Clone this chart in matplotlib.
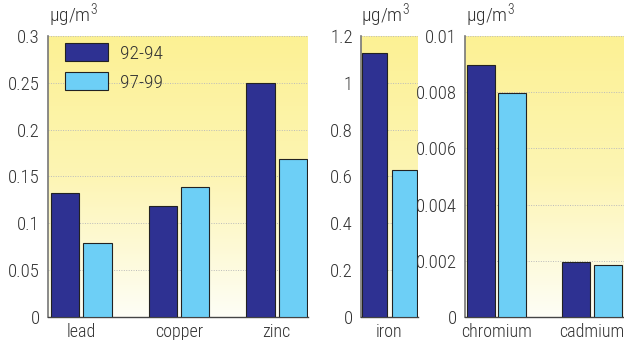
import matplotlib
matplotlib.use('Agg')
import matplotlib.pyplot as plt
import numpy as np
from matplotlib.colors import LinearSegmentedColormap

plt.rcParams['font.family'] = ['Roboto Condensed', 'DejaVu Sans']
plt.rcParams['font.weight'] = 'light'
plt.rcParams['mathtext.fontset'] = 'custom'
plt.rcParams['mathtext.rm'] = 'Roboto Condensed:light'

# data
periods = ['92-94', '97-99']
metals_a = ['lead', 'copper', 'zinc']
early_a = [0.132, 0.119, 0.25]
late_a = [0.079, 0.139, 0.169]

metals_b = ['iron']
early_b = [1.127]
late_b = [0.628]

metals_c = ['chromium', 'cadmium']
early_c = [0.00897, 0.00196]
late_c = [0.00797, 0.00186]

DARK = '#2e3192'
LIGHT = '#6dcff6'
TXT = '#333333'

grad = LinearSegmentedColormap.from_list('bg', ['#fefef6', '#fdf5b4', '#fcf194'])

fig = plt.figure(figsize=(6.24, 3.4), dpi=100)
fig.patch.set_facecolor('white')


def panel(rect, names, v1, v2, ymax, step, width, offset, xlim, ticklabels):
    ax = fig.add_axes(rect)
    x = np.arange(len(names))
    ax.set_xlim(*xlim)
    ax.set_ylim(0, ymax)
    ax.imshow(np.linspace(0, 1, 256).reshape(-1, 1), aspect='auto', cmap=grad,
              origin='lower', extent=[xlim[0], xlim[1], 0, ymax], zorder=0)
    ax.bar(x - offset, v1, width, color=DARK, edgecolor='#222222', linewidth=0.8,
           zorder=3, label=periods[0])
    ax.bar(x + offset, v2, width, color=LIGHT, edgecolor='#222222', linewidth=0.8,
           zorder=3, label=periods[1])
    ticks = np.arange(0, ymax + step / 2, step)
    ax.set_yticks(ticks)
    ax.set_yticklabels(ticklabels, fontsize=13.5, color=TXT)
    ax.yaxis.grid(True, linestyle=(0, (1, 1.5)), color='#bbbbbb', linewidth=0.7, zorder=1)
    ax.set_xticks(x)
    ax.set_xticklabels(names, fontsize=13, color=TXT)
    ax.tick_params(length=0, pad=6)
    ax.tick_params(axis='x', pad=4)
    for s in ['top', 'right']:
        ax.spines[s].set_visible(False)
    ax.spines['left'].set_color('#777777')
    ax.spines['left'].set_linewidth(1.2)
    ax.spines['bottom'].set_color('#444444')
    ax.spines['bottom'].set_linewidth(1.0)
    ax.text(0.005, 1.02, 'µg/m$^3$', transform=ax.transAxes,
            ha='left', va='bottom', fontsize=14, color=TXT)
    return ax


ax1 = panel([48 / 624, 23 / 340, 260 / 624, 281 / 340], metals_a, early_a, late_a,
            0.3, 0.05, 0.29, 0.165, (-0.34, 2.32),
            ['0', '0.05', '0.1', '0.15', '0.2', '0.25', '0.3'])
panel([361 / 624, 23 / 340, 57 / 624, 281 / 340], metals_b, early_b, late_b,
      1.2, 0.2, 0.44, 0.26, (-0.5, 0.5),
      ['0', '0.2', '0.4', '0.6', '0.8', '1', '1.2'])
panel([465 / 624, 23 / 340, 159 / 624, 281 / 340], metals_c, early_c, late_c,
      0.01, 0.002, 0.29, 0.165, (-0.33, 1.335),
      ['0', '0.002', '0.004', '0.006', '0.008', '0.01'])

leg = ax1.legend(loc='upper left', bbox_to_anchor=(0.065, 0.975), frameon=False,
                 fontsize=14, handlelength=2.2, handleheight=1.05,
                 labelspacing=0.5, handletextpad=0.65, borderpad=0, borderaxespad=0)
for t in leg.get_texts():
    t.set_color(TXT)

plt.savefig('out.png', dpi=100, facecolor='white')
